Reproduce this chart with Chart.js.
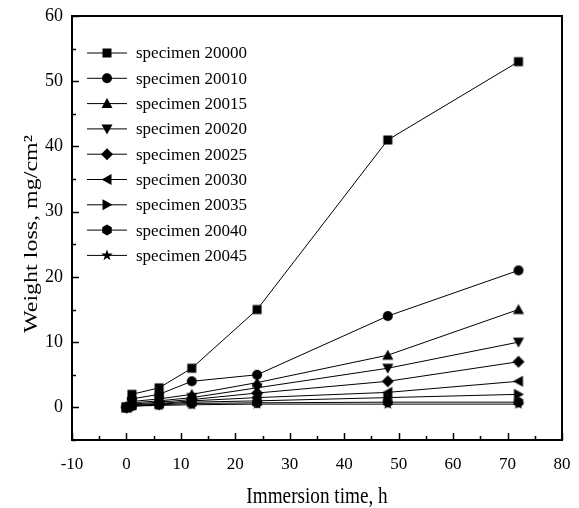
<!DOCTYPE html>
<html>
<head>
<meta charset="utf-8">
<script src="https://cdn.jsdelivr.net/npm/chart.js@4.4.0/dist/chart.umd.min.js"></script>
<style>
  html, body { margin: 0; padding: 0; background: #fff; }
  canvas { display: block; }
</style>
</head>
<body>
<canvas id="weightLossChart" width="579" height="508"></canvas>
<script>
// Immersion times (h) shared by every specimen
const immersionTimes = [0, 1, 6, 12, 24, 48, 72];

const specimenNames = [
    'specimen 20000', 'specimen 20010', 'specimen 20015',
    'specimen 20020', 'specimen 20025', 'specimen 20030',
    'specimen 20035', 'specimen 20040', 'specimen 20045',
];

// Weight loss, mg/cm2
const specimen20000 = [0, 2, 3, 6, 15, 41, 53];
const specimen20010 = [0, 1.3, 2, 4, 5, 14, 21];
const specimen20015 = [0, 0.9, 1.3, 2, 3.8, 8, 15];
const specimen20020 = [0, 0.7, 1, 1.5, 3, 6, 10];
const specimen20025 = [0, 0.5, 0.8, 1.2, 2.2, 4, 7];
const specimen20030 = [0, 0.4, 0.6, 1, 1.5, 2.3, 4];
const specimen20035 = [0, 0.3, 0.5, 0.8, 1, 1.5, 2];
const specimen20040 = [0, 0.2, 0.4, 0.6, 0.7, 0.8, 0.8];
const specimen20045 = [0, 0.2, 0.3, 0.4, 0.5, 0.5, 0.5];

const xTickValues = [-10, 0, 10, 20, 30, 40, 50, 60, 70, 80];
const yTickValues = [0, 10, 20, 30, 40, 50, 60];

const xTitle = 'Immersion time, h';
const yTitle = 'Weight loss, mg/cm\u00B2';

const markerShapes = [
    'square', 'circle', 'triangleUp', 'triangleDown', 'diamond',
    'triangleLeft', 'triangleRight', 'hexagon', 'star',
];

const allSeries = [
    specimen20000, specimen20010, specimen20015, specimen20020, specimen20025,
    specimen20030, specimen20035, specimen20040, specimen20045,
];

const FONT = '"Liberation Serif", "Times New Roman", serif';

// Trace and fill one marker centred on (cx, cy)
function drawMarker(ctx, shape, cx, cy) {
    const poly = (pts) => {
        ctx.beginPath();
        pts.forEach(([px, py], i) => (i ? ctx.lineTo(cx + px, cy + py) : ctx.moveTo(cx + px, cy + py)));
        ctx.closePath();
        ctx.fill();
    };
    ctx.fillStyle = '#000';
    switch (shape) {
        case 'square': poly([[-4.5, -4.5], [4.5, -4.5], [4.5, 4.5], [-4.5, 4.5]]); break;
        case 'circle':
            ctx.beginPath();
            ctx.arc(cx, cy, 5, 0, Math.PI * 2);
            ctx.fill();
            break;
        case 'triangleUp': poly([[0, -5.5], [5.5, 4.5], [-5.5, 4.5]]); break;
        case 'triangleDown': poly([[0, 5.5], [5.5, -4.5], [-5.5, -4.5]]); break;
        case 'diamond': poly([[0, -6], [6, 0], [0, 6], [-6, 0]]); break;
        case 'triangleLeft': poly([[-5.5, 0], [4.5, -5.5], [4.5, 5.5]]); break;
        case 'triangleRight': poly([[5.5, 0], [-4.5, -5.5], [-4.5, 5.5]]); break;
        case 'hexagon': {
            const pts = [];
            for (let k = 0; k < 6; k++) {
                const a = Math.PI / 6 + k * Math.PI / 3;
                pts.push([5.5 * Math.cos(a), 5.5 * Math.sin(a)]);
            }
            poly(pts);
            break;
        }
        case 'star': {
            const pts = [];
            for (let k = 0; k < 10; k++) {
                const r = k % 2 ? 2.4 : 6;
                const a = -Math.PI / 2 + k * Math.PI / 5;
                pts.push([r * Math.cos(a), r * Math.sin(a)]);
            }
            poly(pts);
            break;
        }
    }
}

function markerImage(shape) {
    const c = document.createElement('canvas');
    c.width = 14;
    c.height = 14;
    drawMarker(c.getContext('2d'), shape, 7, 7);
    return c;
}

// Frame, inward ticks (major + minor), tick labels, axis titles and the in-plot legend
const framePlugin = {
    id: 'frameAndLegend',
    afterDraw(chart) {
        const { ctx, chartArea: a, scales } = chart;
        ctx.save();
        ctx.strokeStyle = '#000';
        ctx.lineWidth = 1.5;

        ctx.beginPath();
        for (let v = scales.x.min; v <= scales.x.max; v += 5) {
            const px = Math.round(scales.x.getPixelForValue(v)) + 0.5;
            const len = v % 10 === 0 ? 7 : 4;
            ctx.moveTo(px, a.bottom);
            ctx.lineTo(px, a.bottom - len);
        }
        for (let v = scales.y.min; v <= scales.y.max; v += 5) {
            const py = Math.round(scales.y.getPixelForValue(v)) + 0.5;
            const len = v % 10 === 0 ? 7 : 4;
            ctx.moveTo(a.left, py);
            ctx.lineTo(a.left + len, py);
        }
        ctx.stroke();

        ctx.lineWidth = 2;
        ctx.strokeRect(a.left, a.top, a.right - a.left, a.bottom - a.top);

        // tick labels, positioned by the scales
        ctx.fillStyle = '#000';
        ctx.font = '17px ' + FONT;
        ctx.textAlign = 'center';
        ctx.textBaseline = 'middle';
        scales.x.ticks.forEach((t) => {
            ctx.fillText(String(t.value), scales.x.getPixelForValue(t.value), a.bottom + 25);
        });
        ctx.font = '18px ' + FONT;
        ctx.textAlign = 'right';
        scales.y.ticks.forEach((t) => {
            ctx.fillText(String(t.value), a.left - 9, scales.y.getPixelForValue(t.value));
        });

        // axis titles (slightly condensed like the source figure)
        ctx.font = '24px ' + FONT;
        ctx.textAlign = 'center';
        ctx.textBaseline = 'alphabetic';
        ctx.save();
        ctx.translate((a.left + a.right) / 2, 503);
        ctx.scale(0.8, 1);
        ctx.fillText(xTitle, 0, 0);
        ctx.restore();

        ctx.save();
        ctx.translate(37, (a.top + a.bottom) / 2 + 6);
        ctx.rotate(-Math.PI / 2);
        ctx.scale(1, 0.8);
        ctx.fillText(yTitle, 0, 0);
        ctx.restore();

        // legend
        ctx.lineWidth = 1;
        ctx.font = '17px ' + FONT;
        ctx.textAlign = 'left';
        ctx.textBaseline = 'middle';
        specimenNames.forEach((name, i) => {
            const y = 53 + i * 25.3;
            ctx.beginPath();
            ctx.moveTo(87, y);
            ctx.lineTo(127, y);
            ctx.stroke();
            drawMarker(ctx, markerShapes[i], 107, y);
            ctx.fillText(name, 136, y + 1);
        });
        ctx.restore();
    },
};

const datasets = allSeries.map((values, i) => ({
    label: specimenNames[i],
    data: immersionTimes.map((t, j) => ({ x: t, y: values[j] })),
    borderColor: '#000',
    borderWidth: 1,
    pointStyle: markerImage(markerShapes[i]),
    pointRadius: 5,
    tension: 0,
}));

new Chart(document.getElementById('weightLossChart'), {
    type: 'line',
    data: { datasets },
    plugins: [framePlugin],
    options: {
        responsive: false,
        animation: false,
        layout: { padding: { top: 16, right: 17, left: 0, bottom: 0 } },
        plugins: {
            legend: { display: false },
            tooltip: { enabled: false },
        },
        scales: {
            x: {
                type: 'linear',
                min: -10,
                max: 80,
                afterBuildTicks: (s) => { s.ticks = xTickValues.map((v) => ({ value: v })); },
                afterFit: (s) => { s.height = 68; },
                grid: { display: false, drawTicks: false },
                border: { display: false },
                ticks: { display: false },
            },
            y: {
                min: -5,
                max: 60,
                afterBuildTicks: (s) => { s.ticks = yTickValues.map((v) => ({ value: v })); },
                afterFit: (s) => { s.width = 72; },
                grid: { display: false, drawTicks: false },
                border: { display: false },
                ticks: { display: false },
            },
        },
    },
});
</script>
</body>
</html>
